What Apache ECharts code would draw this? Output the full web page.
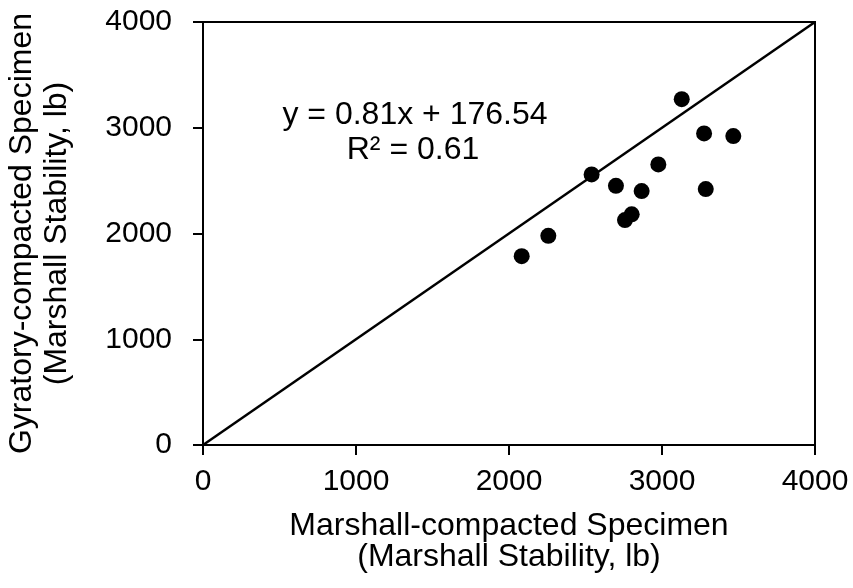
<!DOCTYPE html>
<html>
<head>
<meta charset="utf-8">
<script src="https://cdn.jsdelivr.net/npm/echarts@6/dist/echarts.min.js"></script>
<style>
  html, body { margin: 0; padding: 0; background: #fff; }
  #chart { width: 853px; height: 588px; }
</style>
</head>
<body>
<div id="chart"></div>
<script>
// Marshall-compacted (x) vs gyratory-compacted (y) stability, lb
const marshall = [3129, 3275, 3466, 2976, 2540, 2699, 2867, 3286, 2802, 2758, 2257, 2083]
const gyratory = [3270, 2946, 2921, 2653, 2559, 2451, 2401, 2420, 2181, 2127, 1978, 1786]
const equalityLine = [[0, 0], [4000, 4000]]
const equationText = ['y = 0.81x + 176.54', 'R² = 0.61']

const font = 'Liberation Sans, Arial, sans-serif'
const points = marshall.map((x, i) => [x, gyratory[i]])

const myChart = echarts.init(document.getElementById('chart'), null, { renderer: 'canvas' })

const axisCommon = {
  type: 'value',
  min: 0,
  max: 4000,
  interval: 1000,
  nameLocation: 'middle',
  axisLine: { show: true, onZero: false, lineStyle: { color: '#000', width: 2 } },
  axisTick: { show: true, inside: false, length: 10, lineStyle: { color: '#000', width: 2 } },
  splitLine: { show: false },
  axisLabel: { color: '#000', fontSize: 30, fontFamily: font, formatter: v => String(v) }
}

const option = {
  animation: false,
  backgroundColor: '#fff',
  grid: {
    left: 203, right: 38, top: 22, bottom: 143,
    show: true, borderColor: '#000', borderWidth: 2,
    containLabel: false, outerBoundsMode: 'none'
  },
  xAxis: Object.assign({}, axisCommon, {
    name: 'Marshall-compacted Specimen\n(Marshall Stability, lb)',
    nameGap: 66,
    nameTextStyle: { color: '#000', fontSize: 32, fontFamily: font, lineHeight: 31 },
    axisLabel: Object.assign({}, axisCommon.axisLabel, { margin: 22 })
  }),
  yAxis: Object.assign({}, axisCommon, {
    name: 'Gyratory-compacted Specimen\n(Marshall Stability, lb)',
    nameGap: 128,
    nameTextStyle: { color: '#000', fontSize: 32, fontFamily: font, lineHeight: 35 },
    axisLabel: Object.assign({}, axisCommon.axisLabel, { margin: 31 })
  }),
  graphic: [
    {
      type: 'text', x: 415, y: 115,
      style: { text: equationText[0], fill: '#000', font: '32px ' + font, textAlign: 'center', textVerticalAlign: 'middle' }
    },
    {
      type: 'text', x: 413, y: 150,
      style: { text: equationText[1], fill: '#000', font: '32px ' + font, textAlign: 'center', textVerticalAlign: 'middle' }
    }
  ],
  series: [
    {
      type: 'line',
      data: equalityLine,
      showSymbol: false,
      symbol: 'none',
      lineStyle: { color: '#000', width: 2.5 },
      z: 2
    },
    {
      type: 'scatter',
      data: points,
      symbol: 'circle',
      symbolSize: 16,
      itemStyle: { color: '#000', opacity: 1 },
      z: 3
    }
  ]
}

myChart.setOption(option, true)
</script>
</body>
</html>
